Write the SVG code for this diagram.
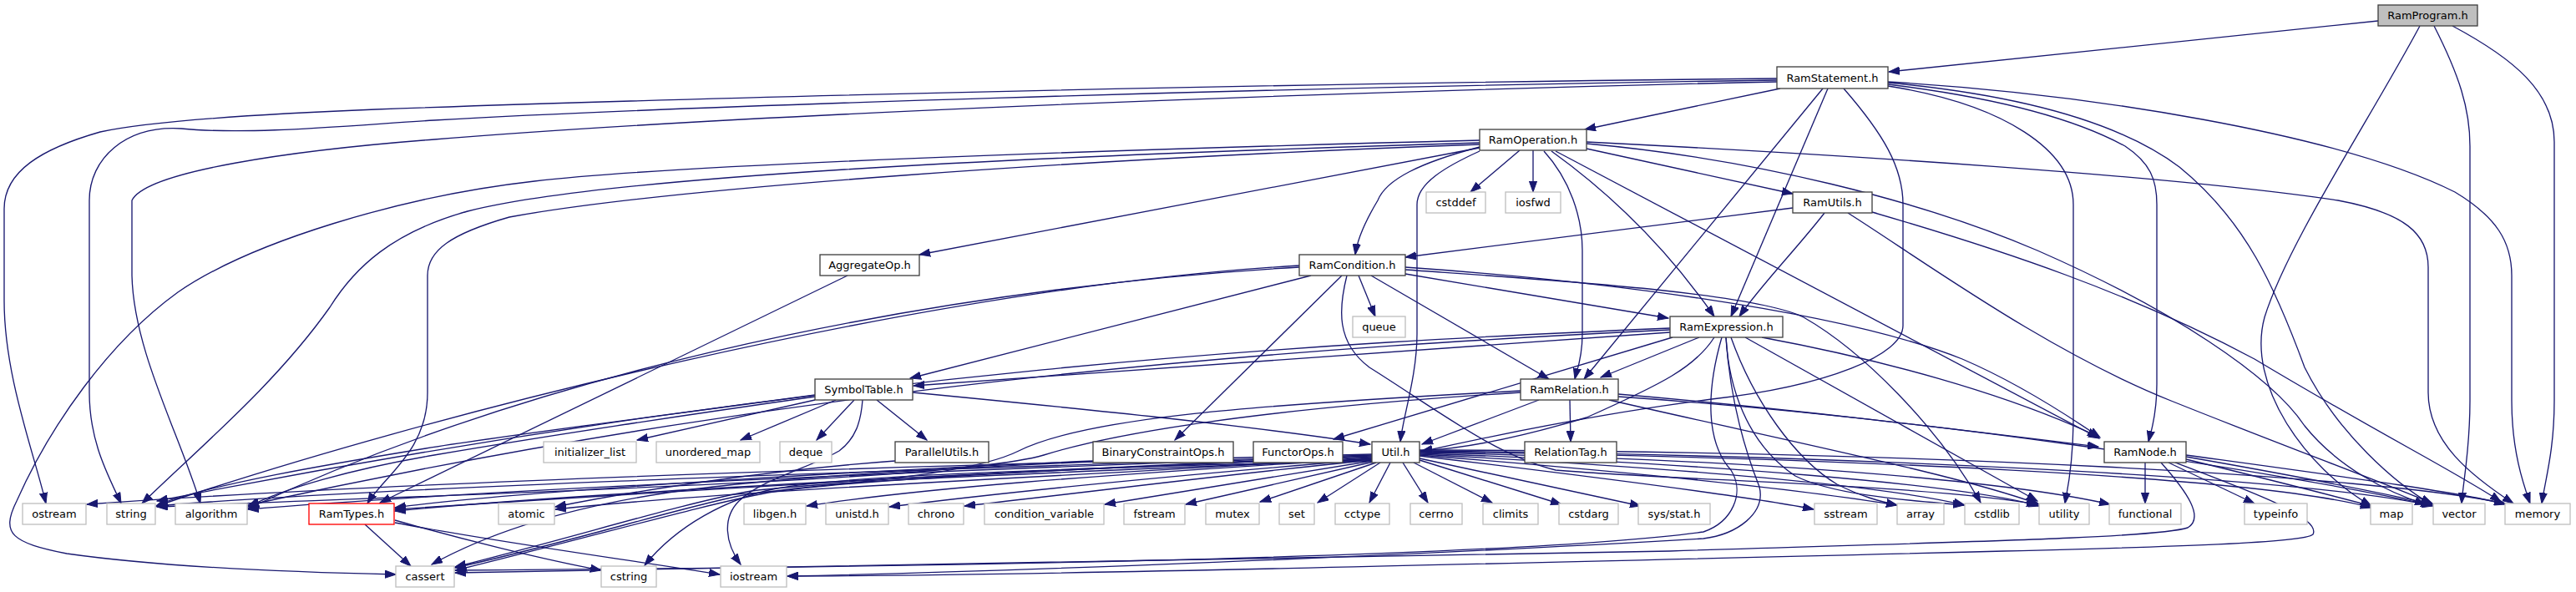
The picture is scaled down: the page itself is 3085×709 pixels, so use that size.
<svg xmlns="http://www.w3.org/2000/svg" width="3085" height="709" viewBox="0 0 3085 709">
<style>
.n rect{fill:#fff;stroke:#404040;stroke-width:1.33}
.g rect{fill:#fff;stroke:#bfbfbf;stroke-width:1.33}
.r rect{fill:#fff;stroke:#ff0000;stroke-width:1.33}
.root rect{fill:#bfbfbf;stroke:#404040;stroke-width:1.33}
text{font-family:"DejaVu Sans","Liberation Sans",sans-serif;font-size:13px;text-anchor:middle;fill:#000}
#edges path{fill:none;stroke:#191970;stroke-width:1.33;marker-end:url(#a)}
</style>
<defs>
<marker id="a" markerWidth="14" markerHeight="10" refX="13" refY="5" orient="auto" markerUnits="userSpaceOnUse"><path d="M0,0.4 L13,5 L0,9.6 z" fill="#191970" stroke="#191970" stroke-width="1"/></marker>
</defs>
<rect width="3085" height="709" fill="#fff"/>
<g id="edges">
<path d="M2848,25 L2262,86"/>
<path d="M2898,31 C2840,140 2740,290 2712,380 C2690,460 2760,560 2840,606"/>
<path d="M2915,31 C2945,90 2958,130 2958,175 L2958,480 C2958,540 2950,575 2948,603"/>
<path d="M2937,31 C3010,70 3059,110 3059,170 L3059,480 C3059,540 3048,575 3044,603"/>
<path d="M2128,94 C1500,100 800,118 450,131 C300,137 180,145 120,158 C50,178 5,205 5,250 L5,360 C5,450 40,540 55,603"/>
<path d="M2128,96 C1500,105 800,128 520,144 C420,150 300,162 217,154 C150,150 107,190 107,240 L107,470 C107,530 130,570 145,603"/>
<path d="M2128,98 C1500,112 850,140 520,167 C350,180 175,205 158,240 L158,330 C160,420 215,520 240,603"/>
<path d="M2132,106 L1898,155"/>
<path d="M2183,106 L1897,454"/>
<path d="M2189,106 L2073,379"/>
<path d="M2208,106 C2255,160 2279,200 2279,245 L2279,390 C2279,425 2190,462 2050,478 C1900,497 1760,528 1702,541"/>
<path d="M2261,103 C2400,125 2483,180 2483,245 L2483,500 C2483,560 2475,590 2473,603"/>
<path d="M2261,101 C2400,118 2490,145 2545,175 C2575,195 2583,215 2583,245 L2583,460 C2583,500 2575,520 2573,529"/>
<path d="M2261,99 C2400,112 2530,140 2610,200 C2690,265 2725,345 2760,440 C2800,520 2870,580 2912,604"/>
<path d="M2261,98 C2500,112 2800,160 2940,230 C2990,260 3008,290 3008,330 L3008,480 C3008,540 3022,580 3030,603"/>
<path d="M1772,168 C1300,180 800,198 640,217 C480,235 300,290 213,350 C130,410 60,510 20,600 C0,640 15,650 80,663 C200,680 380,686 474,688"/>
<path d="M1772,171 C1200,188 720,212 560,253 C470,278 425,320 395,368 C330,460 240,535 170,603"/>
<path d="M1772,173 C1300,190 800,225 610,260 C540,280 512,300 512,330 L512,470 C512,540 460,570 440,603"/>
<path d="M1772,177 L1101,305"/>
<path d="M1772,176 C1700,195 1660,215 1650,240 C1632,270 1625,290 1623,305"/>
<path d="M1772,181 C1730,200 1697,220 1697,245 L1697,400 C1697,450 1680,500 1677,529"/>
<path d="M1820,180 L1761,230"/>
<path d="M1836,180 L1836,230"/>
<path d="M1849,181 C1880,215 1895,260 1895,300 L1895,400 C1895,430 1888,445 1886,454"/>
<path d="M1858,181 C1940,240 2005,310 2053,379"/>
<path d="M1863,181 L2514,525"/>
<path d="M1900,178 L2147,232"/>
<path d="M1900,170 C2200,185 2600,210 2800,240 C2880,255 2908,280 2908,320 L2908,470 C2908,530 2960,570 3010,603"/>
<path d="M1900,172 C2100,190 2300,240 2440,300 C2600,370 2720,450 2760,510 C2800,560 2860,590 2905,604"/>
<path d="M2147,249 L1683,308"/>
<path d="M2185,255 C2150,300 2110,340 2083,379"/>
<path d="M2213,255 C2300,310 2450,420 2600,480 C2750,540 2860,580 2913,603"/>
<path d="M2242,254 C2400,300 2550,350 2700,430 C2850,520 2950,570 2995,601"/>
<path d="M1556,318 C1100,345 500,500 188,606"/>
<path d="M1556,320 C1200,340 700,420 297,609"/>
<path d="M1570,330 L1090,453"/>
<path d="M1607,330 L1407,527"/>
<path d="M1627,330 L1647,379"/>
<path d="M1642,330 L1855,454"/>
<path d="M1683,328 L1998,381"/>
<path d="M1683,320 C1900,335 2200,370 2350,430 C2420,460 2480,500 2515,524"/>
<path d="M1683,323 C1850,335 2100,350 2160,380 C2230,420 2320,510 2372,602"/>
<path d="M1613,330 C1603,370 1600,410 1640,440 C1720,490 1790,545 1863,563 C2000,575 2300,580 2440,604"/>
<path d="M2000,398 L1094,462"/>
<path d="M2000,393 C1600,410 1000,440 188,600"/>
<path d="M2000,395 C1600,415 1000,450 297,605"/>
<path d="M2035,404 L1917,452"/>
<path d="M2003,404 L1597,526"/>
<path d="M2053,404 C2030,440 1990,460 1900,500 C1800,530 1740,538 1702,540"/>
<path d="M2110,404 C2250,430 2400,470 2513,523"/>
<path d="M2090,404 L2440,600"/>
<path d="M2073,404 C2100,480 2150,550 2200,580 C2230,595 2250,600 2272,605"/>
<path d="M2067,404 C2070,460 2090,530 2150,570 C2200,595 2300,600 2352,605"/>
<path d="M2062,404 C2043,470 2043,530 2073,563 C2090,590 2075,625 2040,637 C1800,670 1000,680 545,683"/>
<path d="M2067,404 C2072,480 2090,540 2107,583 C2115,615 2080,640 2040,645 C1700,665 1200,685 943,690"/>
<path d="M976,479 L763,527"/>
<path d="M1001,479 L887,527"/>
<path d="M1023,479 L978,527"/>
<path d="M1050,479 L1110,527"/>
<path d="M1033,479 C1031,505 1025,525 1005,540 C975,558 910,575 885,600 C865,620 868,650 887,676"/>
<path d="M1093,470 C1300,490 1500,510 1641,532"/>
<path d="M976,473 C800,497 600,522 510,537 C400,555 250,580 188,605"/>
<path d="M976,475 C800,500 620,528 520,545 C420,562 340,585 297,607"/>
<path d="M1843,479 L1703,532"/>
<path d="M1880,479 L1881,529"/>
<path d="M1938,472 C2150,490 2350,515 2513,535"/>
<path d="M1821,468 C1500,485 1300,500 1220,540 C1150,575 950,580 880,595 C800,612 680,650 545,680"/>
<path d="M1821,470 C1500,490 1330,520 1250,545 C1150,575 600,590 188,607"/>
<path d="M1938,475 C2300,500 2700,560 2912,605"/>
<path d="M1927,479 C2150,530 2350,570 2442,604"/>
<path d="M1643,548 C1300,570 900,585 665,610"/>
<path d="M1643,547 C1200,565 700,590 473,612"/>
<path d="M1643,546 C1200,560 600,585 297,610"/>
<path d="M1643,545 C1200,560 500,580 187,606"/>
<path d="M1643,544 C1200,555 500,575 104,604"/>
<path d="M1643,550 C1300,565 1000,575 900,588 C820,602 700,640 545,679"/>
<path d="M1643,552 C1200,562 1000,572 930,585 C870,597 810,630 772,677"/>
<path d="M1643,549 C1300,570 1100,585 966,606"/>
<path d="M1643,550 C1400,570 1200,590 1065,607"/>
<path d="M1643,551 C1450,570 1300,590 1155,606"/>
<path d="M1643,552 L1323,604"/>
<path d="M1645,553 L1420,604"/>
<path d="M1648,554 L1509,601"/>
<path d="M1653,554 L1578,602"/>
<path d="M1665,554 L1640,602"/>
<path d="M1680,554 L1710,602"/>
<path d="M1693,554 L1787,602"/>
<path d="M1700,551 L1870,604"/>
<path d="M1700,549 L1965,606"/>
<path d="M1700,546 C1900,570 2100,595 2172,610"/>
<path d="M1700,545 C1950,565 2150,585 2272,605"/>
<path d="M1700,544 C2000,560 2250,580 2353,605"/>
<path d="M1700,543 C2050,555 2350,580 2442,606"/>
<path d="M1700,542 C2100,550 2400,575 2527,604"/>
<path d="M1700,541 C2200,548 2700,570 2840,608"/>
<path d="M1700,540 C2200,545 2750,570 2914,606"/>
<path d="M1700,539 C2300,540 2850,570 3000,603"/>
<path d="M2569,554 L2569,603"/>
<path d="M2597,554 L2700,603"/>
<path d="M2618,547 C2750,570 2850,590 2914,604"/>
<path d="M2618,545 C2800,570 2950,590 3000,604"/>
<path d="M2618,550 C2700,570 2780,590 2840,606"/>
<path d="M2588,554 C2620,590 2640,620 2620,632 C2580,645 2300,650 2000,660 C1400,675 900,680 545,686"/>
<path d="M2605,554 C2700,590 2780,620 2770,640 C2760,650 2600,655 2400,660 C1800,675 1200,690 943,690"/>
<path d="M437,628 L492,678"/>
<path d="M473,623 C550,645 650,670 720,683"/>
<path d="M473,626 C600,650 750,670 862,688"/>
<path d="M1072,552 C900,565 750,590 665,607"/>
<path d="M1309,552 C1000,565 600,590 473,608"/>
<path d="M1309,553 C1100,562 900,575 800,590 C700,605 600,630 517,676"/>
<path d="M1501,552 C1100,570 700,595 473,610"/>
<path d="M1501,553 C1200,565 1000,578 920,590 C840,605 720,640 546,683"/>
<path d="M1015,330 L455,602"/>
</g>
<g id="RamProgram" class="root"><rect x="2848" y="6" width="119" height="25"/><text x="2907.5" y="23">RamProgram.h</text></g>
<g id="RamStatement" class="n"><rect x="2128" y="80" width="133" height="26"/><text x="2194.5" y="97.5">RamStatement.h</text></g>
<g id="RamOperation" class="n"><rect x="1772" y="155" width="128" height="25"/><text x="1836" y="172">RamOperation.h</text></g>
<g id="cstddef" class="g"><rect x="1708" y="230" width="71" height="25"/><text x="1743.5" y="247">cstddef</text></g>
<g id="iosfwd" class="g"><rect x="1803" y="230" width="66" height="25"/><text x="1836" y="247">iosfwd</text></g>
<g id="RamUtils" class="n"><rect x="2147" y="230" width="95" height="25"/><text x="2194.5" y="247">RamUtils.h</text></g>
<g id="AggregateOp" class="n"><rect x="982" y="305" width="119" height="25"/><text x="1041.5" y="322">AggregateOp.h</text></g>
<g id="RamCondition" class="n"><rect x="1556" y="305" width="127" height="25"/><text x="1619.5" y="322">RamCondition.h</text></g>
<g id="queue" class="g"><rect x="1620" y="379" width="63" height="25"/><text x="1651.5" y="396">queue</text></g>
<g id="RamExpression" class="n"><rect x="2000" y="379" width="135" height="25"/><text x="2067.5" y="396">RamExpression.h</text></g>
<g id="SymbolTable" class="n"><rect x="976" y="454" width="117" height="25"/><text x="1034.5" y="471">SymbolTable.h</text></g>
<g id="RamRelation" class="n"><rect x="1821" y="454" width="117" height="25"/><text x="1879.5" y="471">RamRelation.h</text></g>
<g id="initializer_list" class="g"><rect x="651" y="529" width="111" height="25"/><text x="706.5" y="546">initializer_list</text></g>
<g id="unordered_map" class="g"><rect x="786" y="529" width="124" height="25"/><text x="848" y="546">unordered_map</text></g>
<g id="deque" class="g"><rect x="934" y="529" width="62" height="25"/><text x="965" y="546">deque</text></g>
<g id="ParallelUtils" class="n"><rect x="1072" y="529" width="112" height="25"/><text x="1128" y="546">ParallelUtils.h</text></g>
<g id="BinaryConstraintOps" class="n"><rect x="1309" y="529" width="168" height="25"/><text x="1393" y="546">BinaryConstraintOps.h</text></g>
<g id="FunctorOps" class="n"><rect x="1501" y="529" width="107" height="25"/><text x="1554.5" y="546">FunctorOps.h</text></g>
<g id="Util" class="n"><rect x="1643" y="529" width="57" height="25"/><text x="1671.5" y="546">Util.h</text></g>
<g id="RelationTag" class="n"><rect x="1826" y="529" width="110" height="25"/><text x="1881" y="546">RelationTag.h</text></g>
<g id="RamNode" class="n"><rect x="2520" y="529" width="98" height="25"/><text x="2569" y="546">RamNode.h</text></g>
<g id="ostream" class="g"><rect x="27" y="603" width="76" height="25"/><text x="65" y="620">ostream</text></g>
<g id="string" class="g"><rect x="128" y="603" width="58" height="25"/><text x="157" y="620">string</text></g>
<g id="algorithm" class="g"><rect x="210" y="603" width="86" height="25"/><text x="253" y="620">algorithm</text></g>
<g id="RamTypes" class="r"><rect x="370" y="603" width="102" height="25"/><text x="421" y="620">RamTypes.h</text></g>
<g id="atomic" class="g"><rect x="597" y="603" width="67" height="25"/><text x="630.5" y="620">atomic</text></g>
<g id="libgen" class="g"><rect x="891" y="603" width="74" height="25"/><text x="928" y="620">libgen.h</text></g>
<g id="unistd" class="g"><rect x="989" y="603" width="75" height="25"/><text x="1026.5" y="620">unistd.h</text></g>
<g id="chrono" class="g"><rect x="1088" y="603" width="66" height="25"/><text x="1121" y="620">chrono</text></g>
<g id="condition_variable" class="g"><rect x="1179" y="603" width="143" height="25"/><text x="1250.5" y="620">condition_variable</text></g>
<g id="fstream" class="g"><rect x="1346" y="603" width="73" height="25"/><text x="1382.5" y="620">fstream</text></g>
<g id="mutex" class="g"><rect x="1444" y="603" width="64" height="25"/><text x="1476" y="620">mutex</text></g>
<g id="set" class="g"><rect x="1532" y="603" width="42" height="25"/><text x="1553" y="620">set</text></g>
<g id="cctype" class="g"><rect x="1599" y="603" width="65" height="25"/><text x="1631.5" y="620">cctype</text></g>
<g id="cerrno" class="g"><rect x="1689" y="603" width="62" height="25"/><text x="1720" y="620">cerrno</text></g>
<g id="climits" class="g"><rect x="1776" y="603" width="66" height="25"/><text x="1809" y="620">climits</text></g>
<g id="cstdarg" class="g"><rect x="1867" y="603" width="71" height="25"/><text x="1902.5" y="620">cstdarg</text></g>
<g id="sys_stat" class="g"><rect x="1962" y="603" width="86" height="25"/><text x="2005" y="620">sys/stat.h</text></g>
<g id="sstream" class="g"><rect x="2173" y="603" width="75" height="25"/><text x="2210.5" y="620">sstream</text></g>
<g id="array" class="g"><rect x="2272" y="603" width="56" height="25"/><text x="2300" y="620">array</text></g>
<g id="cstdlib" class="g"><rect x="2353" y="603" width="65" height="25"/><text x="2385.5" y="620">cstdlib</text></g>
<g id="utility" class="g"><rect x="2442" y="603" width="60" height="25"/><text x="2472" y="620">utility</text></g>
<g id="functional" class="g"><rect x="2526" y="603" width="86" height="25"/><text x="2569" y="620">functional</text></g>
<g id="typeinfo" class="g"><rect x="2688" y="603" width="75" height="25"/><text x="2725.5" y="620">typeinfo</text></g>
<g id="map" class="g"><rect x="2839" y="603" width="50" height="25"/><text x="2864" y="620">map</text></g>
<g id="vector" class="g"><rect x="2914" y="603" width="62" height="25"/><text x="2945" y="620">vector</text></g>
<g id="memory" class="g"><rect x="3000" y="603" width="78" height="25"/><text x="3039" y="620">memory</text></g>
<g id="cassert" class="g"><rect x="474" y="678" width="70" height="25"/><text x="509" y="695">cassert</text></g>
<g id="cstring" class="g"><rect x="720" y="678" width="66" height="25"/><text x="753" y="695">cstring</text></g>
<g id="iostream" class="g"><rect x="863" y="678" width="79" height="25"/><text x="902.5" y="695">iostream</text></g>
</svg>
